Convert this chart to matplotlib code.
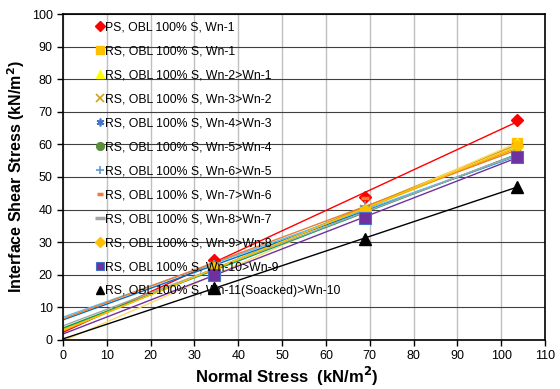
import numpy as np
import matplotlib
matplotlib.use("Agg")
import matplotlib.pyplot as plt

plt.rcParams['font.family'] = ['Liberation Sans', 'DejaVu Sans']

normal_stress = [34.5, 69.0, 103.5]

labels = [
    "PS, OBL 100% S, Wn-1",
    "RS, OBL 100% S, Wn-1",
    "RS, OBL 100% S, Wn-2>Wn-1",
    "RS, OBL 100% S, Wn-3>Wn-2",
    "RS, OBL 100% S, Wn-4>Wn-3",
    "RS, OBL 100% S, Wn-5>Wn-4",
    "RS, OBL 100% S, Wn-6>Wn-5",
    "RS, OBL 100% S, Wn-7>Wn-6",
    "RS, OBL 100% S, Wn-8>Wn-7",
    "RS, OBL 100% S, Wn-9>Wn-8",
    "RS, OBL 100% S, Wn-10>Wn-9",
    "RS, OBL 100% S, Wn-11(Soacked)>Wn-10",
]

shear_ps_wn1 = [24.5, 44.0, 67.5]
shear_rs_wn1 = [22.5, 39.5, 60.5]
shear_wn2 = [20.0, 40.0, 60.5]
shear_wn3 = [22.0, 40.0, 59.0]
shear_wn4 = [23.0, 39.5, 56.5]
shear_wn5 = [21.5, 39.0, 57.0]
shear_wn6 = [23.0, 41.0, 56.0]
shear_wn7 = [22.5, 43.5, 57.0]
shear_wn8 = [22.0, 39.0, 57.0]
shear_wn9 = [22.0, 40.0, 59.5]
shear_wn10 = [20.0, 37.5, 56.0]
shear_wn11 = [16.0, 31.0, 47.0]

series = [shear_ps_wn1, shear_rs_wn1, shear_wn2, shear_wn3, shear_wn4, shear_wn5,
          shear_wn6, shear_wn7, shear_wn8, shear_wn9, shear_wn10, shear_wn11]

marker_styles = [
    dict(marker='D', color='#FF0000', ms=6, mec='#FF0000'),
    dict(marker='s', color='#FFC000', ms=7, mec='#FFC000'),
    dict(marker='^', color='#FFFF00', ms=7, mec='#FFFF00'),
    dict(marker='x', color='#D4A017', ms=7, mec='#D4A017', mew=1.2),
    dict(marker=(6, 2, 0), color='#4472C4', ms=7, mec='#4472C4', mew=1.2),
    dict(marker='o', color='#5B8F3A', ms=7, mec='#5B8F3A'),
    dict(marker='+', color='#5B9BD5', ms=7, mec='#5B9BD5', mew=1.2),
    dict(marker='_', color='#ED7D31', ms=6, mec='#ED7D31', mew=2.5),
    dict(marker='_', color='#A5A5A5', ms=9, mec='#A5A5A5', mew=2.5),
    dict(marker='D', color='#FFC000', ms=6.5, mec='#FFC000'),
    dict(marker='s', color='#7030A0', ms=8, mec='#4472C4', mew=0.8),
    dict(marker='^', color='#000000', ms=8, mec='#000000'),
]

line_colors = ['#FF0000', '#C9A000', '#FFD966', '#E0B000', '#0070C0', '#00A050',
               '#5BC0F0', '#ED7D31', '#A5A5A5', '#FFC000', '#7030A0', '#000000']

fig = plt.figure(figsize=(5.6, 3.89), dpi=100)
ax = fig.add_axes([0.1125, 0.126, 0.8607, 0.838])

x = np.array(normal_stress)
xl = np.array([0.0, x.max()])
for ys, lc in zip(series, line_colors):
    p = np.polyfit(x, ys, 1)
    ax.plot(xl, np.polyval(p, xl), color=lc, lw=1.0, zorder=2)

handles = []
for ys, st, lab in zip(series, marker_styles, labels):
    st = dict(st)
    col = st.pop('color')
    h, = ax.plot(x, ys, linestyle='none', mfc=col, label=lab, zorder=3, **st)
    handles.append(h)

ax.set_xlim(0, 110)
ax.set_ylim(0, 100)
ax.set_xticks(np.arange(0, 111, 10))
ax.set_yticks(np.arange(0, 101, 10))
ax.xaxis.grid(True, color='#BFBFBF', lw=1.0)
ax.yaxis.grid(True, color='#404040', lw=0.8)
ax.set_axisbelow(True)
for s in ax.spines.values():
    s.set_color('#000000')
    s.set_linewidth(1.2)
ax.tick_params(axis='both', direction='out', length=4, width=1, labelsize=9, colors='#000000')

ax.set_xlabel("Normal Stress  (kN/m$^{\\mathbf{2}}$)", fontsize=12, fontweight='bold', labelpad=1)
ax.xaxis.set_label_coords(0.465, -0.075)
ax.set_ylabel("Interface Shear Stress (kN/m$^{\\mathbf{2}}$)", fontsize=11.5, fontweight='bold', labelpad=3)

leg = ax.legend(handles=handles, loc='upper left', bbox_to_anchor=(0.054, 1.0), frameon=False,
                fontsize=8.8, handlelength=0.6, handletextpad=0.1, labelspacing=0.98,
                borderaxespad=0.2, numpoints=1, markerscale=0.8)

fig.savefig("out.png", dpi=100)
